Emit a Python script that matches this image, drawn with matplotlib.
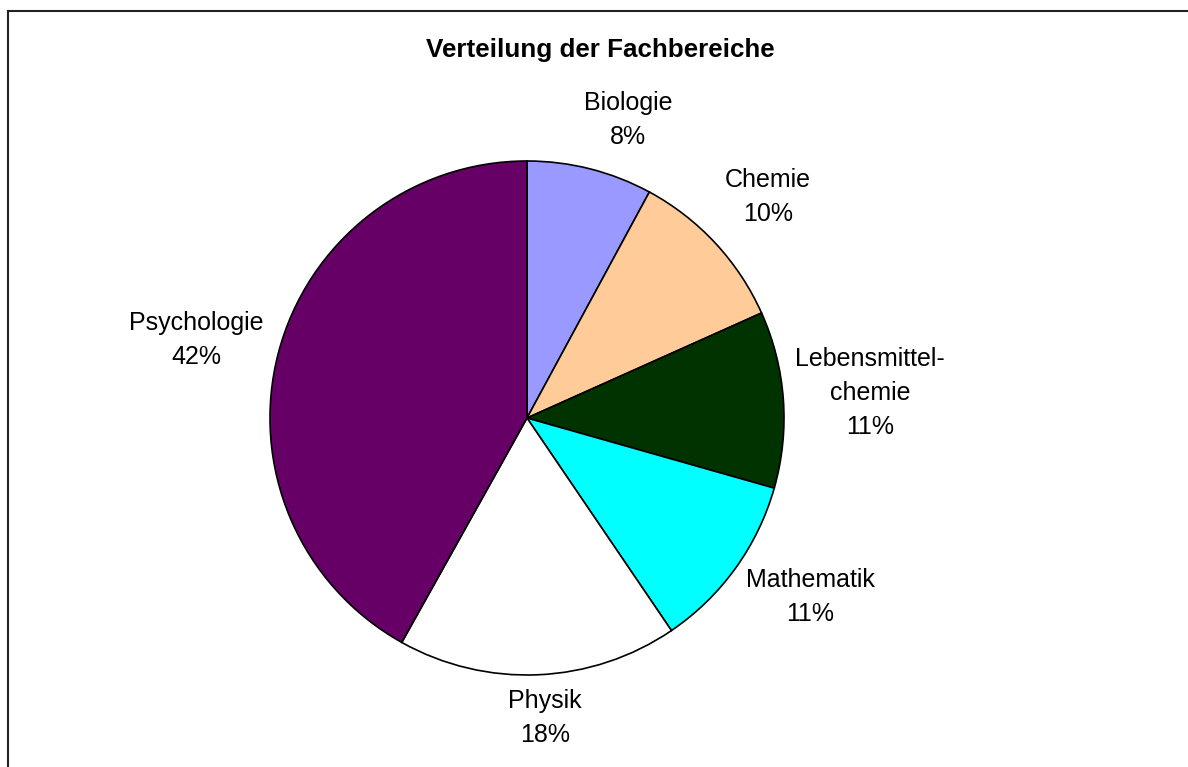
import matplotlib.pyplot as plt
from matplotlib.lines import Line2D

# Fachbereiche, clockwise from 12 o'clock
categories = ["Biologie", "Chemie", "Lebensmittel-\nchemie", "Mathematik", "Physik", "Psychologie"]
shares = [7.9, 10.4, 11.1, 11.1, 17.6, 41.9]
pct_labels = ["8%", "10%", "11%", "11%", "18%", "42%"]
colors = ["#9999FF", "#FFCC99", "#003300", "#00FFFF", "#FFFFFF", "#660066"]

# label centres in pixel coordinates (x, y from top)
label_xy = [(628, 120), (768, 197), (870, 393), (810, 597), (545, 718), (196, 340)]

W, H = 1188, 767
fig = plt.figure(figsize=(W / 100, H / 100), dpi=100)
ax = fig.add_axes([0, 0, 1, 1])

ax.pie(shares, colors=colors, startangle=90, counterclock=False,
       center=(527, H - 418), radius=257, frame=True,
       wedgeprops=dict(edgecolor="black", linewidth=1.2))
ax.set_xlim(0, W)
ax.set_ylim(0, H)
ax.axis("off")

for cat, pct, (x, y) in zip(categories, pct_labels, label_xy):
    ax.text(x, H - y, f"{cat}\n{pct}", ha="center", va="center",
            fontsize=18, family="Liberation Sans", linespacing=1.55)

ax.text(600, H - 50, "Verteilung der Fachbereiche", ha="center", va="center",
        fontsize=18.7, fontweight="bold", family="Liberation Sans")

# chart frame (only top and left edges visible)
fig.add_artist(Line2D([7.5 / W, 1], [1 - 10.5 / H, 1 - 10.5 / H], color="#222222",
                      linewidth=1.5, transform=fig.transFigure))
fig.add_artist(Line2D([7.5 / W, 7.5 / W], [0, 1 - 10.5 / H], color="#222222",
                      linewidth=1.5, transform=fig.transFigure))

fig.savefig("out.png", dpi=100)
